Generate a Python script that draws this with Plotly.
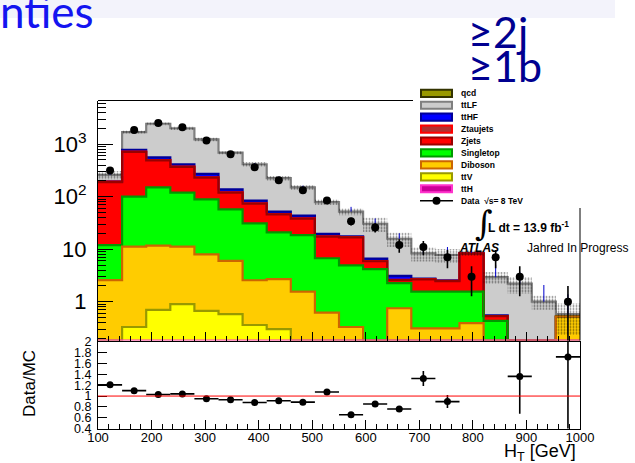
import numpy as np
import plotly.graph_objects as go

# ---- H_T binning [GeV] ----
bin_edges = [100, 145, 190, 235, 280, 325, 370, 415, 460, 505, 550,
             595, 640, 685, 730, 775, 820, 865, 910, 955, 1000]

# ---- expected events per bin, stacked bottom -> top ----
ttH = [0.02, 0.08, 0.10, 0.10, 0.08, 0.06, 0.05, 0.04, 0.03, 0.02,
       0.02, 0.01, 0.01, 0.01, 0.01, 0.01, 0.0, 0.0, 0.0, 0.0]
ttV = [0.06, 0.25, 0.60, 0.80, 0.59, 0.52, 0.31, 0.26, 0.12, 0.08,
       0.05, 0.03, 0.03, 0.02, 0.02, 0.02, 0.01, 0.0, 0.0, 0.0]
diboson = [2.5, 10.9, 11.0, 10.3, 7.3, 5.4, 2.2, 2.4, 1.4, 0.52,
           0.26, 0.05, 0.71, 0.28, 0.28, 0.36, 0.02, 0.0, 0.0, 0.52]
singletop = [9.4, 89, 139, 108, 81, 51.5, 28.5, 18.3, 17.0, 6.1,
             4.6, 4.1, 1.5, 1.24, 1.24, 1.16, 0.40, 0.05, 0.03, 0.0]
zjets = [178, 610, 342, 249, 142, 62, 42.7, 25.2, 19.7, 10.6,
         11.9, 1.71, 0.33, 1.12, 0.92, 6.7, 0.1, 0.02, 0.0, 0.0]
ztaujets = [3, 10, 7, 5, 3, 1.5, 1.0, 0.6, 0.5, 0.3,
            0.2, 0.05, 0.02, 0.03, 0.03, 0.1, 0.0, 0.0, 0.0, 0.0]
ttHF = [3, 57, 63, 41, 37, 17, 9.2, 5.0, 4.7, 1.9,
        0.6, 0.64, 0.5, 0.05, 0.05, 0.05, 0.02, 0.0, 0.0, 0.0]
ttLF = [65, 923, 1887, 1596, 959, 552, 331, 173, 106.5, 59.5,
        34.4, 23.9, 12.7, 5.55, 5.25, 0.1, 2.38, 2.13, 0.97, 0.06]
qcd = [0.0] * 20

# relative systematic band on the total prediction
mc_rel_unc = [0.18, 0.07, 0.06, 0.07, 0.08, 0.08, 0.10, 0.10, 0.10, 0.12,
              0.15, 0.30, 0.30, 0.30, 0.30, 0.12, 0.25, 0.35, 0.30, 0.60]
# upward MC statistical error on the total
mc_stat_up = [16, 41, 50, 45, 35, 26, 20, 15, 12, 9,
              12, 8, 4.3, 3, 3.2, 3, 2.1, 1.5, 1.08, 0.8]

# ---- observed events ----
data = [315, 1870, 2520, 2090, 1170, 642, 365, 205, 133, 85,
        34, 26, 12, 11, 7, 3, 7, 3, 0, 1]
# uncertainty on Data/MC as shown in the ratio pad
ratio_err = [0.03, 0.03, 0.03, 0.03, 0.03, 0.03, 0.03, 0.04, 0.04, 0.04,
             0.05, 0.05, 0.05, 0.14, 0.12, 0.20, 0.60, 0.69, 0.0, 1.7]

# ---- styles (fill, outline) ----
samples = [
    ("ttH", ttH, "#CC0099", "#FF33CC"),
    ("ttV", ttV, "#FFFF00", "#999900"),
    ("Diboson", diboson, "#FFCC00", "#CC6600"),
    ("Singletop", singletop, "#00FF00", "#009900"),
    ("Zjets", zjets, "#FF0000", "#990000"),
    ("Ztaujets", ztaujets, "#B03030", "#FF0000"),
    ("ttHF", ttHF, "#0000FF", "#000099"),
    ("ttLF", ttLF, "#CCCCCC", "#7F7F7F"),
]
qcd_style = ("#999900", "#333300")

W, H = 635, 463
def fx(p):
    return p / W
def fy(p):
    return 1 - p / H

Y_LO, Y_HI = -0.739, 3.832
y_floor = 10 ** Y_LO

edges = np.array(bin_edges, float)
centers = 0.5 * (edges[:-1] + edges[1:])
half_w = 0.5 * np.diff(edges)

def step(v):
    v = np.maximum(np.asarray(v, float), y_floor)
    return np.append(v, v[-1])

fig = go.Figure()

# stacked fills (bottom -> top), each filled down to the layer below
fig.add_trace(go.Scatter(x=edges, y=np.full(len(edges), y_floor * 0.5),
                         mode="lines", line=dict(width=0), hoverinfo="skip",
                         showlegend=False))
cum = np.zeros(len(centers))
cumulative = []
for name, vals, fc, lc in samples:
    cum = cum + np.asarray(vals, float)
    cumulative.append((cum.copy(), lc))
    fig.add_trace(go.Scatter(x=edges, y=step(cum), mode="lines",
                             line=dict(shape="hv", width=0),
                             fill="tonexty", fillcolor=fc, name=name,
                             hoverinfo="skip", showlegend=False))
total = cum + np.asarray(qcd, float)

# outlines drawn top -> bottom so lower samples win where edges coincide
for c, lc in reversed(cumulative):
    fig.add_trace(go.Scatter(x=edges, y=step(c), mode="lines",
                             line=dict(shape="hv", color=lc, width=2.2),
                             hoverinfo="skip", showlegend=False))

# systematic band (dotted hatch)
rel = np.asarray(mc_rel_unc)
fig.add_trace(go.Scatter(x=edges, y=step(total * (1 + rel)), mode="lines",
                         line=dict(shape="hv", width=0), hoverinfo="skip",
                         showlegend=False))
fig.add_trace(go.Scatter(x=edges, y=step(total * (1 - rel)), mode="lines",
                         line=dict(shape="hv", width=0), fill="tonexty",
                         fillcolor="rgba(0,0,0,0)",
                         fillpattern=dict(shape=".", fgcolor="#000000",
                                          bgcolor="rgba(0,0,0,0)", size=3,
                                          solidity=0.3),
                         hoverinfo="skip", showlegend=False))

# MC stat error (upward)
fig.add_trace(go.Scatter(x=centers, y=total, mode="markers",
                         marker=dict(size=1, opacity=0),
                         error_y=dict(type="data", symmetric=False,
                                      array=mc_stat_up,
                                      arrayminus=[0] * len(centers),
                                      color="#0000CC", thickness=1, width=0),
                         hoverinfo="skip", showlegend=False))

# data points
d = np.asarray(data, float)
d_plot = np.where(d > 0, d, np.nan)
fig.add_trace(go.Scatter(x=centers, y=d_plot, mode="markers",
                         marker=dict(color="black", size=8),
                         error_y=dict(type="data", array=np.sqrt(d),
                                      color="black", thickness=1.6, width=0),
                         hoverinfo="skip", showlegend=False))

# ratio pad
ratio = d / total
show = (d > 0) & (ratio >= 0.4) & (ratio <= 2.0)
fig.add_trace(go.Scatter(x=centers[show], y=ratio[show], mode="markers",
                         marker=dict(color="black", size=7),
                         error_x=dict(type="data", array=half_w[show],
                                      color="black", thickness=1.6, width=0),
                         error_y=dict(type="data",
                                      array=np.asarray(ratio_err)[show],
                                      color="black", thickness=1.6, width=0),
                         xaxis="x2", yaxis="y2", hoverinfo="skip",
                         showlegend=False))

font_main = "Liberation Sans, Arial, sans-serif"
minor_log = [m * 10.0 ** e for e in range(-1, 4) for m in range(2, 10)]

fig.update_layout(
    width=W, height=H, margin=dict(l=0, r=0, t=0, b=0, autoexpand=False),
    paper_bgcolor="white", plot_bgcolor="rgba(0,0,0,0)",
    font=dict(family=font_main, color="black"),
    xaxis=dict(domain=[fx(98), fx(580)], range=[100, 1000], anchor="y",
               automargin=False,
               showticklabels=False, ticks="inside", ticklen=9, dtick=100,
               tick0=0, tickcolor="black",
               minor=dict(ticks="inside", ticklen=5, dtick=20,
                          tickcolor="black"),
               showline=True, linecolor="black", linewidth=1,
               showgrid=False, zeroline=False),
    yaxis=dict(domain=[fy(340.5), fy(100.5)], type="log",
               automargin=False,
               range=[Y_LO, Y_HI], tickmode="array",
               tickvals=[1, 10, 100, 1000],
               ticktext=["1", "10", "10<sup>2</sup>", "10<sup>3</sup>"],
               ticks="inside", ticklen=15, tickcolor="black",
               ticklabelstandoff=6, tickfont=dict(size=22),
               minor=dict(tickmode="array", tickvals=minor_log,
                          ticks="inside", ticklen=8, tickcolor="black"),
               showline=True, linecolor="black", linewidth=1,
               showgrid=False, zeroline=False),
    xaxis2=dict(domain=[fx(98), fx(580)], range=[100, 1000], anchor="y2",
                automargin=False,
                ticks="inside", ticklen=9, dtick=100, tick0=0,
                tickcolor="black", tickfont=dict(size=13),
                ticklabelstandoff=-3,
                minor=dict(ticks="inside", ticklen=5, dtick=20,
                           tickcolor="black"),
                showline=True, mirror=True, linecolor="black", linewidth=1,
                showgrid=False, zeroline=False),
    yaxis2=dict(domain=[fy(428.5), fy(342)], range=[0.4, 2.0], anchor="x2",
                automargin=False,
                tickmode="array",
                tickvals=[0.4, 0.6, 0.8, 1.0, 1.2, 1.4, 1.6, 1.8, 2.0],
                ticktext=["0.4", "0.6", "0.8", "1", "1.2", "1.4", "1.6",
                          "1.8", "2"],
                ticks="inside", ticklen=9, tickcolor="black",
                ticklabelstandoff=3, tickfont=dict(size=12.5),
                showline=True, mirror=True, linecolor="black", linewidth=1,
                showgrid=False, zeroline=False),
)

shapes = []
# slide header strip
shapes.append(dict(type="rect", xref="paper", yref="paper", x0=0, x1=fx(615),
                   y0=fy(18), y1=1, fillcolor="#F3F3FB", line=dict(width=0),
                   layer="below"))
# upper pad frame: top and right edges
shapes.append(dict(type="line", xref="paper", yref="paper", x0=fx(98),
                   x1=fx(413), y0=fy(100.5), y1=fy(100.5),
                   line=dict(color="black", width=1)))
shapes.append(dict(type="line", xref="paper", yref="paper", x0=fx(580),
                   x1=fx(580), y0=fy(208), y1=fy(340.5),
                   line=dict(color="black", width=1)))
# unity line in ratio pad
shapes.append(dict(type="line", xref="x2", yref="y2", x0=100, x1=1000,
                   y0=1, y1=1, line=dict(color="#FF0000", width=1)))

annotations = []
# legend
legend_rows = [("qcd",) + qcd_style] + [(n, fc, lc) for n, _, fc, lc in
                                         reversed(samples)]
legend_order = ["qcd", "ttLF", "ttHF", "Ztaujets", "Zjets", "Singletop",
                "Diboson", "ttV", "ttH"]
style = {r[0]: r for r in legend_rows}
for i, name in enumerate(legend_order):
    _, fc, lc = style[name]
    yc = 93.3 + 11.93 * i
    shapes.append(dict(type="rect", xref="paper", yref="paper",
                       x0=fx(421), x1=fx(452), y0=fy(yc + 3.6),
                       y1=fy(yc - 3.6), fillcolor=fc,
                       line=dict(color=lc, width=2)))
    annotations.append(dict(x=fx(459), y=fy(yc), xref="paper", yref="paper",
                            text="<b>%s</b>" % name, showarrow=False,
                            xanchor="left", yanchor="middle",
                            font=dict(size=8.5, family=font_main)))
yc = 93.3 + 11.93 * 9
shapes.append(dict(type="line", xref="paper", yref="paper", x0=fx(420),
                   x1=fx(453), y0=fy(yc), y1=fy(yc),
                   line=dict(color="black", width=1.5)))
shapes.append(dict(type="circle", xref="paper", yref="paper", x0=fx(432.5),
                   x1=fx(440.5), y0=fy(yc + 4), y1=fy(yc - 4),
                   fillcolor="black", line=dict(color="black", width=0)))
annotations.append(dict(x=fx(459), y=fy(yc), xref="paper", yref="paper",
                        text="<b>Data  √s= 8 TeV</b>", showarrow=False,
                        xanchor="left", yanchor="middle",
                        font=dict(size=8.5, family=font_main)))

# luminosity / labels
annotations += [
    dict(x=fx(473), y=fy(223), text="∫",
         font=dict(size=34, family="DejaVu Serif, serif")),
    dict(x=fx(486), y=fy(227), text="<b>L dt = 13.9 fb<sup>-1</sup></b>",
         font=dict(size=12, family=font_main)),
    dict(x=fx(457), y=fy(248), text="<b><i>ATLAS</i></b>",
         font=dict(size=12, family=font_main)),
    dict(x=fx(525), y=fy(248), text="Jahred In Progress",
         font=dict(size=12, family=font_main)),
    dict(x=fx(-2), y=fy(11), text="nties",
         font=dict(size=44, family="Lato, sans-serif", color="#1414F0")),
    dict(x=fx(466), y=fy(31), text="≥2j",
         font=dict(size=43, family="Lato, sans-serif", color="#000090")),
    dict(x=fx(466), y=fy(66), text="≥1b",
         font=dict(size=43, family="Lato, sans-serif", color="#000090")),
]
for a in annotations:
    a.setdefault("xref", "paper")
    a.setdefault("yref", "paper")
    a.setdefault("showarrow", False)
    a.setdefault("xanchor", "left")
    a.setdefault("yanchor", "middle")

# axis titles
annotations += [
    dict(x=fx(29), y=fy(384), xref="paper", yref="paper", text="Data/MC",
         textangle=-90, showarrow=False, xanchor="center", yanchor="middle",
         font=dict(size=17, family=font_main)),
    dict(x=fx(578), y=fy(452), xref="paper", yref="paper",
         text="H<sub>T</sub> [GeV]", showarrow=False, xanchor="right",
         yanchor="middle", font=dict(size=18, family=font_main)),
]

fig.update_layout(shapes=shapes, annotations=annotations)
fig.write_html("out.html")
